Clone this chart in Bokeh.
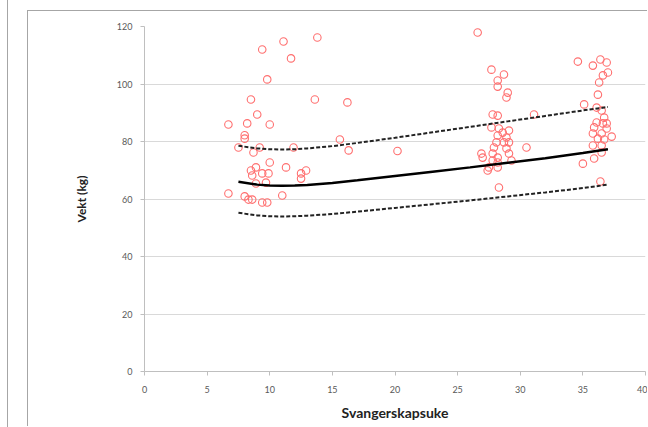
from bokeh.plotting import figure
from bokeh.models import FixedTicker, Range1d, Div, Spacer
from bokeh.layouts import row
from bokeh.embed import file_html
from bokeh.resources import INLINE

# --- data ---
weeks = [6.7, 8.2, 9.0, 10.0, 8.0, 8.0, 7.5, 9.2, 8.7, 11.9, 15.6, 16.3, 10.0, 11.3, 12.9, 12.5, 12.5,
         8.5, 8.9, 9.4, 9.9, 8.6, 9.7, 8.9, 6.7, 8.0, 8.3, 8.6, 9.4, 9.8, 11.0,
         9.4, 11.1, 13.8, 11.7, 9.8, 8.5, 13.6, 16.2,
         20.2,
         26.6, 27.7, 28.7, 28.2, 28.2, 29.0, 28.9,
         27.8, 28.2, 31.1, 27.7, 28.3, 28.6, 28.2, 28.9, 29.1, 28.1, 28.7, 29.1, 27.9, 28.9, 30.5,
         26.9, 27.8, 29.1, 27.0, 28.2, 29.3, 27.8, 28.2, 27.5, 28.2, 27.4, 28.3,
         34.6, 35.8, 36.4, 36.9, 37.0, 36.6, 36.3, 36.2, 35.1, 36.1, 36.5, 36.7, 36.1, 36.9,
         35.9, 36.6, 36.9, 35.8, 36.5, 37.3, 36.2, 36.7, 35.8, 36.5, 36.5, 35.9, 35.0, 36.4]
weights = [85.9, 86.3, 89.4, 85.9, 81.0, 82.2, 77.9, 77.9, 76.2, 77.9, 80.7, 76.9, 72.7, 71.0, 69.9, 68.9, 67.1,
           69.9, 71.0, 68.9, 68.9, 68.2, 65.7, 65.4, 61.9, 60.9, 59.8, 59.8, 58.8, 58.8, 61.2,
           112.0, 114.8, 116.2, 108.9, 101.6, 94.6, 94.6, 93.6,
           76.7,
           117.9, 105.0, 103.3, 101.2, 99.1, 97.0, 95.3,
           89.4, 89.0, 89.4, 84.9, 84.5, 83.1, 82.1, 81.4, 83.8, 79.7, 79.7, 79.7, 77.9, 77.6, 77.9,
           75.8, 75.8, 75.8, 74.4, 74.4, 73.4, 73.4, 72.7, 71.0, 71.0, 69.9, 64.0,
           107.8, 106.4, 108.5, 107.5, 104.0, 103.0, 100.5, 96.3, 92.9, 91.8, 90.8, 88.3, 86.6, 86.3,
           84.9, 86.3, 84.5, 82.8, 82.8, 81.7, 81.0, 80.7, 78.6, 78.6, 76.2, 74.1, 72.3, 66.1]

curve_weeks = [7.5, 9, 10, 11, 12, 13, 15, 17, 20, 23, 26, 29, 32, 35, 37]
mean_curve = [66.0, 65.0, 64.7, 64.6, 64.7, 64.9, 65.6, 66.5, 68.0, 69.5, 71.0, 72.6, 74.2, 76.0, 77.3]
upper_curve = [78.5, 77.6, 77.3, 77.2, 77.3, 77.6, 78.4, 79.5, 81.3, 83.2, 85.1, 87.0, 88.9, 90.8, 92.0]
lower_curve = [55.2, 54.3, 54.0, 53.9, 54.0, 54.2, 54.8, 55.6, 56.9, 58.2, 59.5, 60.9, 62.3, 63.8, 65.0]

x_ticks = [0, 5, 10, 15, 20, 25, 30, 35, 40]
y_ticks = [0, 20, 40, 60, 80, 100, 120]

FONT = "Lato"
BORDER = "1px solid #a6a6a6"

p = figure(width=620, height=416, output_backend="svg", toolbar_location=None,
           x_range=Range1d(0, 40), y_range=Range1d(0, 120),
           min_border_left=116, min_border_right=3, min_border_top=15, min_border_bottom=56,
           styles={"border-left": BORDER, "border-top": BORDER, "margin-top": "10px"})
p.background_fill_color = "white"
p.border_fill_color = "white"
p.outline_line_color = None

p.scatter(weeks, weights, marker="circle", size=7.5, fill_color=None,
          line_color="#ff7070", line_width=1.1)
p.line(curve_weeks, mean_curve, line_color="black", line_width=2.5)
p.line(curve_weeks, upper_curve, line_color="#222222", line_width=2, line_dash="4 2")
p.line(curve_weeks, lower_curve, line_color="#222222", line_width=2, line_dash="4 2")

p.xgrid.grid_line_color = None
p.ygrid.grid_line_color = "#d9d9d9"
p.ygrid.grid_line_width = 1.2

p.xaxis.ticker = FixedTicker(ticks=x_ticks)
p.yaxis.ticker = FixedTicker(ticks=y_ticks)
for ax in (p.xaxis[0], p.yaxis[0]):
    ax.axis_line_color = "#bfbfbf"
    ax.major_tick_line_color = "#bfbfbf"
    ax.major_tick_in = 0
    ax.major_tick_out = 4
    ax.minor_tick_line_color = None
    ax.major_label_text_font = FONT
    ax.major_label_text_font_size = "9px"
    ax.major_label_text_color = "#595959"
    ax.axis_label_text_font = FONT
    ax.axis_label_text_font_style = "bold"
    ax.axis_label_text_color = "#222222"

p.xaxis.major_label_standoff = 10
p.yaxis.major_label_standoff = 8
p.xaxis.axis_label = "Svangerskapsuke"
p.xaxis.axis_label_text_font_size = "14px"
p.xaxis.axis_label_standoff = 8
p.yaxis.axis_label = "Vekt (kg)"
p.yaxis.axis_label_text_font_size = "12px"
p.yaxis.axis_label_standoff = 25

left_edge = Div(text="", width=8, height=427, margin=0, styles={"border-right": BORDER})
gap = Spacer(width=19, height=427, margin=0)
layout = row(left_edge, gap, p, spacing=0)

open("out.html", "w").write(file_html(layout, INLINE))
